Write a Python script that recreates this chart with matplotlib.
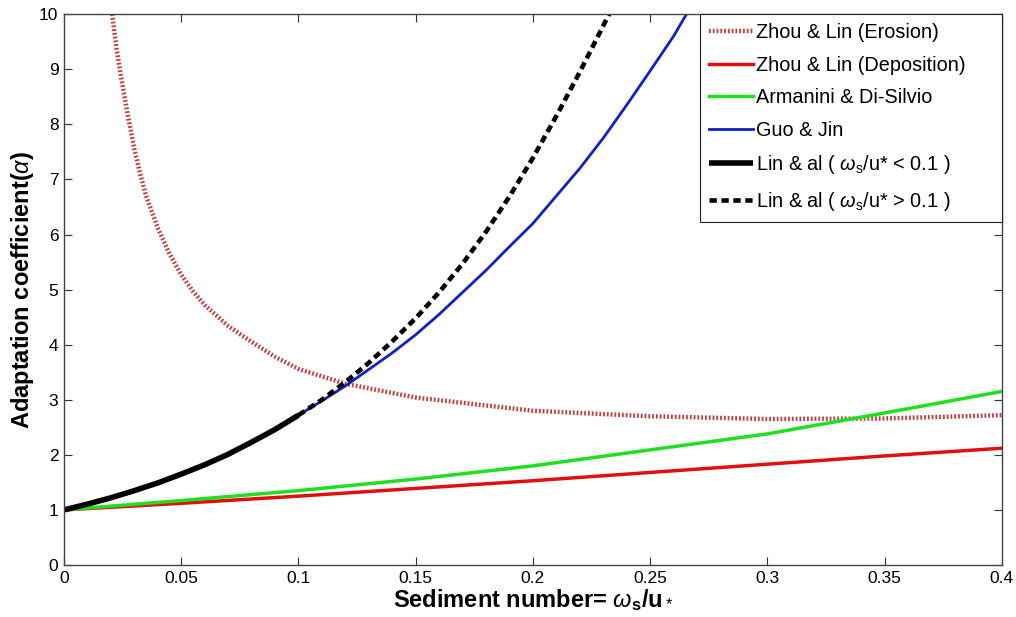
import matplotlib
matplotlib.use("Agg")
import matplotlib.pyplot as plt

plt.rcParams['font.family'] = ['Liberation Sans', 'DejaVu Sans']
plt.rcParams['mathtext.fontset'] = 'custom'
plt.rcParams['mathtext.rm'] = 'Liberation Sans'
plt.rcParams['mathtext.it'] = 'Liberation Sans:italic'
plt.rcParams['mathtext.bf'] = 'Liberation Sans:bold'

# Zhou & Lin (Erosion)
ero_x = [0.0205, 0.0225, 0.025, 0.0275, 0.03, 0.0325, 0.035, 0.04, 0.045, 0.05,
         0.055, 0.06, 0.07, 0.08, 0.09, 0.10, 0.12, 0.15, 0.20, 0.25, 0.30, 0.35, 0.40]
ero_y = [10.0, 9.35, 8.7, 8.1, 7.55, 7.1, 6.7, 6.12, 5.65, 5.27,
         4.97, 4.72, 4.34, 4.05, 3.78, 3.56, 3.29, 3.04, 2.80, 2.70, 2.65, 2.66, 2.72]

# Zhou & Lin (Deposition)
dep_x = [0, 0.05, 0.10, 0.15, 0.20, 0.25, 0.30, 0.35, 0.40]
dep_y = [1.0, 1.12, 1.25, 1.39, 1.53, 1.68, 1.83, 1.98, 2.12]

# Armanini & Di-Silvio
arm_x = [0, 0.05, 0.10, 0.15, 0.20, 0.25, 0.30, 0.35, 0.40]
arm_y = [1.0, 1.17, 1.35, 1.56, 1.80, 2.09, 2.38, 2.76, 3.15]

# Guo & Jin
guo_x = [0, 0.01, 0.02, 0.03, 0.04, 0.05, 0.06, 0.07, 0.08, 0.09, 0.10,
         0.11, 0.12, 0.13, 0.14, 0.15, 0.16, 0.17, 0.18, 0.19, 0.20,
         0.21, 0.22, 0.23, 0.24, 0.25, 0.26, 0.2655]
guo_y = [1.0, 1.105, 1.22, 1.35, 1.49, 1.65, 1.82, 2.01, 2.23, 2.46, 2.72,
         2.98, 3.25, 3.55, 3.85, 4.18, 4.55, 4.95, 5.35, 5.78, 6.2,
         6.7, 7.2, 7.75, 8.35, 8.97, 9.6, 10.0]

# Lin & al (ws/u* < 0.1)
lin1_x = [0, 0.01, 0.02, 0.03, 0.04, 0.05, 0.06, 0.07, 0.08, 0.09, 0.10]
lin1_y = [1.0, 1.105, 1.22, 1.35, 1.49, 1.65, 1.82, 2.01, 2.23, 2.46, 2.72]

# Lin & al (ws/u* > 0.1)
lin2_x = [0.10, 0.11, 0.12, 0.13, 0.14, 0.15, 0.16, 0.17, 0.18, 0.19, 0.20,
          0.21, 0.22, 0.2325]
lin2_y = [2.72, 3.0, 3.32, 3.67, 4.06, 4.48, 4.95, 5.47, 6.05, 6.69, 7.39,
          8.15, 8.95, 10.0]

labels = ['Zhou & Lin (Erosion)', 'Zhou & Lin (Deposition)', 'Armanini & Di-Silvio',
          'Guo & Jin', r'Lin & al ( $\omega_\mathregular{s}$/u* < 0.1 )',
          r'Lin & al ( $\omega_\mathregular{s}$/u* > 0.1 )']

fig = plt.figure(figsize=(10.16, 6.17), dpi=100)
ax = fig.add_axes([0.063, 0.0843, 0.923, 0.8927])

ax.plot(ero_x, ero_y, color='#c83a3a', lw=3.2, linestyle=(0, (0.4, 0.45)), label=labels[0])
ax.plot(dep_x, dep_y, color='#e01010', lw=2.5, label=labels[1])
ax.plot(arm_x, arm_y, color='#1ee01e', lw=2.5, label=labels[2])
ax.plot(guo_x, guo_y, color='#1020c8', lw=2.0, label=labels[3])
ax.plot(lin1_x, lin1_y, color='black', lw=4, label=labels[4], solid_capstyle='butt')
ax.plot(lin2_x, lin2_y, color='black', lw=3.3, linestyle=(0, (1.6, 1.0)), label=labels[5])

ax.set_xlim(0, 0.4)
ax.set_ylim(0, 10)
ax.set_xticks([0, 0.05, 0.1, 0.15, 0.2, 0.25, 0.3, 0.35, 0.4])
ax.set_xticklabels(['0', '0.05', '0.1', '0.15', '0.2', '0.25', '0.3', '0.35', '0.4'])
ax.set_yticks(range(0, 11))
ax.tick_params(direction='in', top=True, right=True, length=6, width=0.8,
               labelsize=12.5, color='#333333', pad=4)
for s in ax.spines.values():
    s.set_color('#444444')
    s.set_linewidth(1.0)

ax.set_xlabel(r'Sediment number= $\omega_\mathregular{s}$/u$_*$', fontsize=17,
              fontweight='bold', labelpad=1)
ax.set_ylabel(r'Adaptation coefficient($\alpha$)', fontsize=17, fontweight='bold',
              labelpad=2)

leg = ax.legend(loc='upper left', bbox_to_anchor=(0.678, 0.0, 0.322, 1.0),
                mode='expand', fontsize=14.3, frameon=True, fancybox=False,
                framealpha=1, edgecolor='#222222', handlelength=2.25,
                handletextpad=0.15, labelspacing=0.68, borderaxespad=0.0,
                borderpad=0.45)
leg.get_frame().set_linewidth(0.8)

fig.savefig('out.png', dpi=100)
